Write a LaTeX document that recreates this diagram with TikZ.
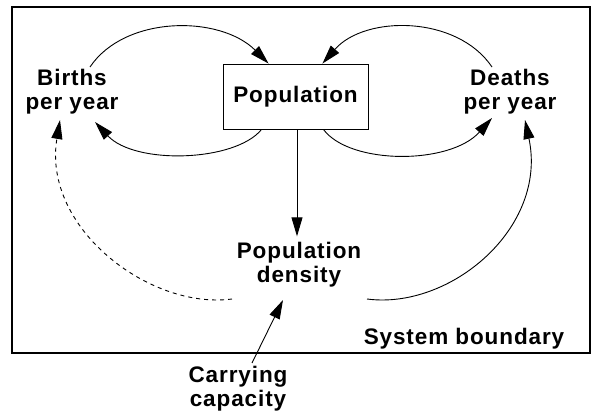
\documentclass[tikz,border=0pt]{standalone}
\usepackage{fontspec}
\setmainfont{Liberation Sans}[LetterSpace=4]
\usetikzlibrary{arrows.meta,calc}

\tikzset{
  label text/.style={font=\bfseries\fontsize{22.5}{24}\selectfont, align=center, inner sep=0pt},
  link/.style={line width=0.9pt, -{Triangle[length=19pt,width=11pt]}},
  dashlink/.style={link, dash pattern=on 4pt off 4pt},
}

\begin{document}
\begin{tikzpicture}[x=1pt,y=-1pt]
  \useasboundingbox (0,0) rectangle (595,417);

  % system boundary
  \draw[line width=1.2pt] (12,7) rectangle (590,353);

  % stock and variables
  \node[label text, draw, line width=0.9pt, minimum width=145pt, minimum height=65pt] (pop) at (295.5,96.5) {Population};
  \node[label text] (births) at (72,92) {Births\\per year};
  \node[label text] (deaths) at (510,92) {Deaths\\per year};
  \node[label text] (dens) at (299,265) {Population\\density};
  \node[label text] (sysb) at (464,339) {System boundary};
  \node[label text] (carry) at (238,389) {Carrying\\capacity};

  % births loop
  \draw[link] ($(births)+(18,-25)$) .. controls (125,15) and (220,15) .. ($(pop.north west)+(46,0)$);
  \draw[link] ($(pop.south west)+(39,0)$) .. controls (235,162) and (135,165) .. ($(births)+(23,30)$);

  % deaths loop
  \draw[link] ($(deaths)+(-18,-25)$) .. controls (457,15) and (365,15) .. ($(pop.north east)+(-46,0)$);
  \draw[link] ($(pop.south east)+(-45,0)$) .. controls (350,165) and (450,165) .. ($(deaths)+(-18,26)$);

  % density
  \draw[link] (pop.south -| 297,0) -- ($(dens.north -| 297,0)+(0,-6)$);
  \draw[link] ($(dens)+(68,34)$) .. controls (450,310) and (548,228) .. ($(deaths)+(15,28)$);
  \draw[dashlink] ($(dens)+(-67,34)$) .. controls (150,310) and (42,228) .. ($(births)+(-12,28)$);
  \draw[link] ($(carry)+(14,-26)$) -- ($(dens)+(-16,35)$);
\end{tikzpicture}
\end{document}
